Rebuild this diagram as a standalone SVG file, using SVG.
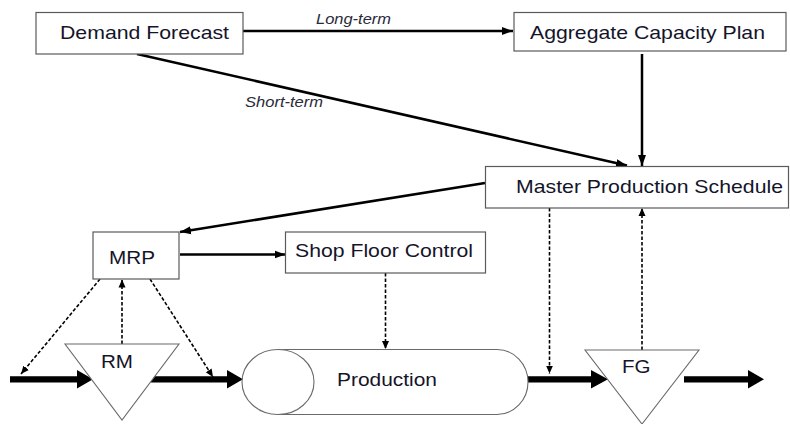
<svg xmlns="http://www.w3.org/2000/svg" width="790" height="424" viewBox="0 0 790 424">
  <style>
    .box { fill: #ffffff; stroke: #5a5a5a; stroke-width: 1.2; }
    .shape { fill: #ffffff; stroke: #6a6a6a; stroke-width: 1.1; }
    .lbl { font-family: "Liberation Sans", Arial, sans-serif; font-size: 19px; fill: #14142a; }
    .note { font-family: "Liberation Sans", Arial, sans-serif; font-size: 14.5px; font-style: italic; fill: #2a2a3a; }
    .solid { fill: none; stroke: #000; stroke-width: 2.5; }
    .dash { fill: none; stroke: #000; stroke-width: 1.6; stroke-dasharray: 3.5 2; }
    .flow { fill: #000; }
  </style>
  <defs>
    <marker id="headSolid" markerUnits="userSpaceOnUse" markerWidth="12" markerHeight="10" refX="11" refY="5" orient="auto">
      <path d="M0,1 L11,5 L0,9 Z" fill="#000"/>
    </marker>
    <marker id="headDash" markerUnits="userSpaceOnUse" markerWidth="9" markerHeight="8" refX="8" refY="4" orient="auto">
      <path d="M0,0.5 L8,4 L0,7.5 Z" fill="#000"/>
    </marker>
  </defs>

  <rect width="790" height="424" fill="#ffffff"/>

  <!-- connectors -->
  <g id="connectors">
    <line class="solid" x1="243" y1="31" x2="513" y2="31" marker-end="url(#headSolid)"/>
    <line class="solid" x1="137" y1="54" x2="627" y2="165.5" marker-end="url(#headSolid)"/>
    <line class="solid" x1="642" y1="54" x2="642" y2="166" marker-end="url(#headSolid)"/>
    <line class="solid" x1="485" y1="183" x2="180" y2="232" marker-end="url(#headSolid)"/>
    <line class="solid" x1="180" y1="254.5" x2="285.5" y2="254.5" marker-end="url(#headSolid)"/>

    <line class="dash" x1="385.5" y1="273" x2="385.5" y2="349" marker-end="url(#headDash)"/>
    <line class="dash" x1="100" y1="279" x2="21" y2="374" marker-end="url(#headDash)"/>
    <line class="dash" x1="122" y1="344" x2="122" y2="279.5" marker-end="url(#headDash)"/>
    <line class="dash" x1="150" y1="279" x2="213" y2="377" marker-end="url(#headDash)"/>
    <line class="dash" x1="549.5" y1="208" x2="549.5" y2="373.5" marker-end="url(#headDash)"/>
    <line class="dash" x1="642" y1="350" x2="642" y2="208" marker-end="url(#headDash)"/>

    <!-- material flow -->
    <polygon class="flow" points="10,376.2 77,376.2 77,370 93,379.3 77,388.6 77,382.4 10,382.4"/>
    <polygon class="flow" points="151,376.2 227,376.2 227,370 243,379.3 227,388.6 227,382.4 151,382.4"/>
    <polygon class="flow" points="528,376.2 591,376.2 591,370 608,379.3 591,388.6 591,382.4 528,382.4"/>
    <polygon class="flow" points="684,376.2 748,376.2 748,370 764,379.3 748,388.6 748,382.4 684,382.4"/>
  </g>

  <g id="demand-forecast">
    <rect class="box" x="36" y="12.5" width="207" height="41.5"/>
    <text class="lbl" x="60" y="39.3" textLength="169" lengthAdjust="spacingAndGlyphs">Demand Forecast</text>
  </g>

  <g id="long-term-label">
    <text class="note" x="316" y="24" textLength="75" lengthAdjust="spacingAndGlyphs">Long-term</text>
  </g>

  <g id="short-term-label">
    <text class="note" x="245" y="106.5" textLength="78" lengthAdjust="spacingAndGlyphs">Short-term</text>
  </g>

  <g id="aggregate-capacity-plan">
    <rect class="box" x="514" y="12.5" width="272" height="38.5"/>
    <text class="lbl" x="530" y="39.3" textLength="235" lengthAdjust="spacingAndGlyphs">Aggregate Capacity Plan</text>
  </g>

  <g id="master-production-schedule">
    <rect class="box" x="485.5" y="166.5" width="303" height="41.5"/>
    <text class="lbl" x="516" y="193" textLength="267" lengthAdjust="spacingAndGlyphs">Master Production Schedule</text>
  </g>

  <g id="mrp">
    <rect class="box" x="93" y="232" width="86" height="47"/>
    <text class="lbl" x="109" y="264" textLength="46" lengthAdjust="spacingAndGlyphs">MRP</text>
  </g>

  <g id="shop-floor-control">
    <rect class="box" x="285.5" y="232" width="200" height="41"/>
    <text class="lbl" x="295" y="257.3" textLength="178" lengthAdjust="spacingAndGlyphs">Shop Floor Control</text>
  </g>

  <g id="raw-material">
    <polygon class="shape" points="65,344 179,344 122,420"/>
    <text class="lbl" x="101" y="367.7" textLength="32" lengthAdjust="spacingAndGlyphs">RM</text>
  </g>

  <g id="production">
    <path class="shape" d="M278,349.5 L497,349.5 A31,32.5 0 0 1 497,414.5 L278,414.5"/>
    <ellipse class="shape" cx="278" cy="382" rx="36" ry="32.5"/>
    <text class="lbl" x="337" y="385.7" textLength="100" lengthAdjust="spacingAndGlyphs">Production</text>
  </g>

  <g id="finished-goods">
    <polygon class="shape" points="585,350 699,350 642,424"/>
    <text class="lbl" x="622" y="373.3" textLength="28.5" lengthAdjust="spacingAndGlyphs">FG</text>
  </g>
</svg>
